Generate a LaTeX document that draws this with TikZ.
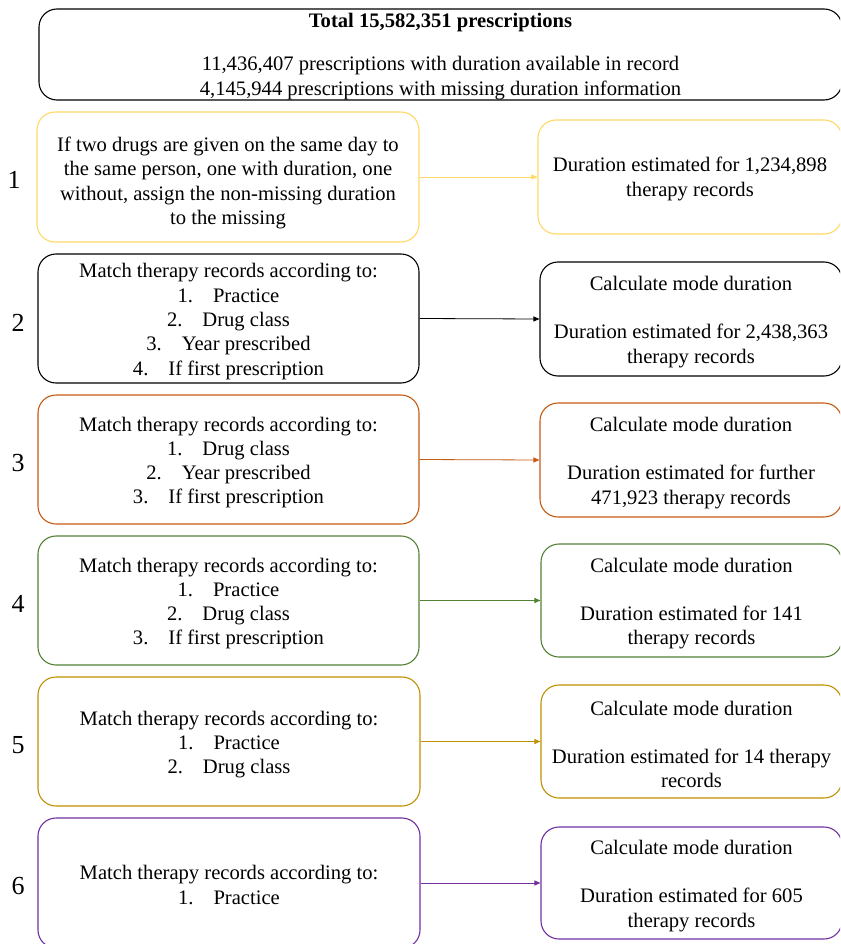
\documentclass[tikz,border=0pt]{standalone}
\usepackage{fontspec}
\setmainfont{Liberation Serif}
\usetikzlibrary{arrows.meta}
\definecolor{cyellow}{HTML}{FFD966}
\definecolor{corange}{HTML}{C55A11}
\definecolor{cgreen}{HTML}{548235}
\definecolor{cgold}{HTML}{BF9000}
\definecolor{cpurple}{HTML}{7030A0}
\tikzset{
  box/.style={draw, rounded corners=18pt, line width=1.1pt, inner sep=0pt},
  txt/.style={align=center, inner sep=0pt, font=\fontsize{20.6}{24.3}\selectfont},
  lbox/.style={box, minimum width=382pt, minimum height=130pt},
  rbox/.style={box, minimum width=302pt, minimum height=114pt},
  num/.style={font=\fontsize{26}{28}\selectfont, inner sep=0pt},
  conn/.style={line width=0.8pt, -{Triangle[length=6pt,width=5pt]}},
}
\newcommand{\itm}[2]{#1.\hspace{20pt}#2}
\begin{document}
\begin{tikzpicture}[x=1pt,y=-1pt]
\useasboundingbox (0,0) rectangle (840,944);
\clip (0,0) rectangle (840,944);
\fill[white] (0,0) rectangle (840,944);

\node[box, minimum width=803pt, minimum height=91pt] (top) at (440.5,54.5) {};
\node[txt] (topt) at ([yshift=-2pt]top.center)
  {\textbf{Total 15,582,351 prescriptions}\\[19pt]
   11,436,407 prescriptions with duration available in record\\
   4,145,944 prescriptions with missing duration information};

% Row 1
\node[lbox, draw=cyellow] (l1) at (228,177) {};
\node[txt] (l1t) at ([yshift=-6pt]l1.center)
  {If two drugs are given on the same day to\\
   the same person, one with duration, one\\
   without, assign the non-missing duration\\
   to the missing};
\node[rbox, draw=cyellow, minimum width=304pt] (r1) at (690,177) {};
\node[txt] (r1t) at ([yshift=-2pt]r1.center)
  {Duration estimated for 1,234,898\\therapy records};
\draw[conn, cyellow] (l1.east) -- (r1.west);
\node[num] (n1) at (14,180) {1};

% Row 2
\node[lbox, minimum width=381pt, minimum height=129pt] (l2) at (228.5,318.5) {};
\node[txt] (l2t) at ([yshift=-3pt]l2.center)
  {Match therapy records according to:\\
   \itm{1}{Practice}\\ \itm{2}{Drug class}\\ \itm{3}{Year prescribed}\\ \itm{4}{If first prescription}};
\node[rbox] (r2) at (691,319) {};
\node[txt] (r2t) at ([yshift=-3pt]r2.center)
  {Calculate mode duration\\[24pt]Duration estimated for 2,438,363\\therapy records};
\draw[conn, black] (l2.east) -- (r2.west);
\node[num] (n2) at (18,323) {2};

% Row 3
\node[lbox, draw=corange, minimum width=381pt, minimum height=129pt] (l3) at (228.5,459.5) {};
\node[txt] (l3t) at ([yshift=-3pt]l3.center)
  {Match therapy records according to:\\
   \itm{1}{Drug class}\\ \itm{2}{Year prescribed}\\ \itm{3}{If first prescription}};
\node[rbox, draw=corange] (r3) at (691,460) {};
\node[txt] (r3t) at ([yshift=-3pt]r3.center)
  {Calculate mode duration\\[24pt]Duration estimated for further\\471,923 therapy records};
\draw[conn, corange] (l3.east) -- (r3.west);
\node[num] (n3) at (18,463) {3};

% Row 4
\node[lbox, draw=cgreen, minimum width=381pt, minimum height=129pt] (l4) at (228.5,600.5) {};
\node[txt] (l4t) at ([yshift=-3pt]l4.center)
  {Match therapy records according to:\\
   \itm{1}{Practice}\\ \itm{2}{Drug class}\\ \itm{3}{If first prescription}};
\node[rbox, draw=cgreen, minimum width=301pt, minimum height=113pt] (r4) at (691.5,600.5) {};
\node[txt] (r4t) at ([yshift=-3pt]r4.center)
  {Calculate mode duration\\[24pt]Duration estimated for 141\\therapy records};
\draw[conn, cgreen] (l4.east) -- (r4.west);
\node[num] (n4) at (18,604) {4};

% Row 5
\node[lbox, draw=cgold, minimum width=382pt, minimum height=129pt] (l5) at (229,741.5) {};
\node[txt] (l5t) at ([yshift=-3pt]l5.center)
  {Match therapy records according to:\\
   \itm{1}{Practice}\\ \itm{2}{Drug class}};
\node[rbox, draw=cgold, minimum width=301pt, minimum height=113pt] (r5) at (691.5,741.5) {};
\node[txt] (r5t) at ([yshift=-3pt]r5.center)
  {Calculate mode duration\\[24pt]Duration estimated for 14 therapy\\records};
\draw[conn, cgold] (l5.east) -- (r5.west);
\node[num] (n5) at (18,745) {5};

% Row 6
\node[lbox, draw=cpurple, minimum width=382pt, minimum height=130pt] (l6) at (229,883) {};
\node[txt] (l6t) at ([yshift=-2pt]l6.center)
  {Match therapy records according to:\\
   \itm{1}{Practice}};
\node[rbox, draw=cpurple, minimum width=301pt, minimum height=112pt] (r6) at (691.5,883) {};
\node[txt] (r6t) at ([yshift=-3pt]r6.center)
  {Calculate mode duration\\[24pt]Duration estimated for 605\\therapy records};
\draw[conn, cpurple] (l6.east) -- (r6.west);
\node[num] (n6) at (18,886) {6};
\end{tikzpicture}
\end{document}
